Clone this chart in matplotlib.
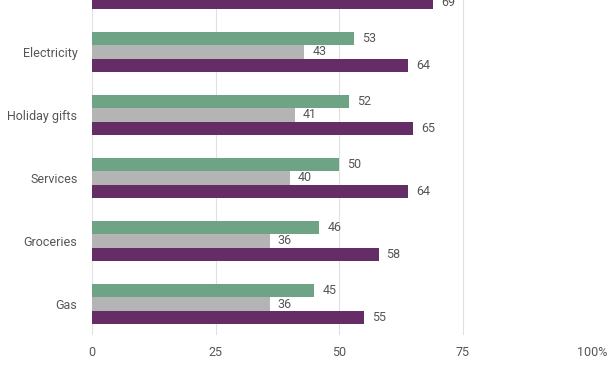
import matplotlib.pyplot as plt
import numpy as np
from matplotlib.transforms import ScaledTranslation

plt.rcParams['font.family'] = ['Roboto', 'DejaVu Sans']

# categories bottom to top (the top one is cut off in the original)
categories = ["Gas", "Groceries", "Services", "Holiday gifts", "Electricity", "Rent"]
green_vals = [45, 46, 50, 52, 53, 58]
gray_vals = [36, 36, 40, 41, 43, 48]
purple_vals = [55, 58, 64, 65, 64, 69]

ticks = [0, 25, 50, 75, 100]
tick_labels = ["0", "25", "50", "75", "100%"]

green = "#6ea386"
gray = "#b4b4b4"
purple = "#652d66"
text_col = "#555555"

fig = plt.figure(figsize=(6.12, 3.74), dpi=100)
ax = fig.add_axes([92 / 612, 39 / 374, 494 / 612, 335 / 374])

y = np.arange(len(categories))
h = 0.212
ax.barh(y + h, green_vals, height=h, color=green, zorder=2)
ax.barh(y, gray_vals, height=h, color=gray, zorder=2)
ax.barh(y - h, purple_vals, height=h, color=purple, zorder=2)

off = ScaledTranslation(8 / 100, 0, fig.dpi_scale_trans)
for i in range(len(categories)):
    ax.text(green_vals[i], y[i] + h, str(green_vals[i]), va='center', ha='left',
            fontsize=9, color=text_col, transform=ax.transData + off)
    ax.text(gray_vals[i], y[i], str(gray_vals[i]), va='center', ha='left',
            fontsize=9, color=text_col, transform=ax.transData + off)
    ax.text(purple_vals[i], y[i] - h, str(purple_vals[i]), va='center', ha='left',
            fontsize=9, color=text_col, transform=ax.transData + off)

ax.set_yticks(y)
ax.set_yticklabels(categories, fontsize=9, color=text_col)
ax.set_xticks(ticks)
ax.set_xticklabels(tick_labels, fontsize=9, color=text_col)
ax.set_xlim(0, 100)
ax.set_ylim(-0.492, 4.825)
ax.tick_params(length=0)
ax.tick_params(axis='y', pad=10.5)
ax.tick_params(axis='x', pad=8)
lbl = ax.get_xticklabels()[-1]
lbl.set_transform(lbl.get_transform() + ScaledTranslation(6 / 100, 0, fig.dpi_scale_trans))

ax.grid(axis='x', color="#e0e0e0", linewidth=0.8, zorder=0)
for s in ax.spines.values():
    s.set_visible(False)

fig.savefig("out.png", dpi=100)
